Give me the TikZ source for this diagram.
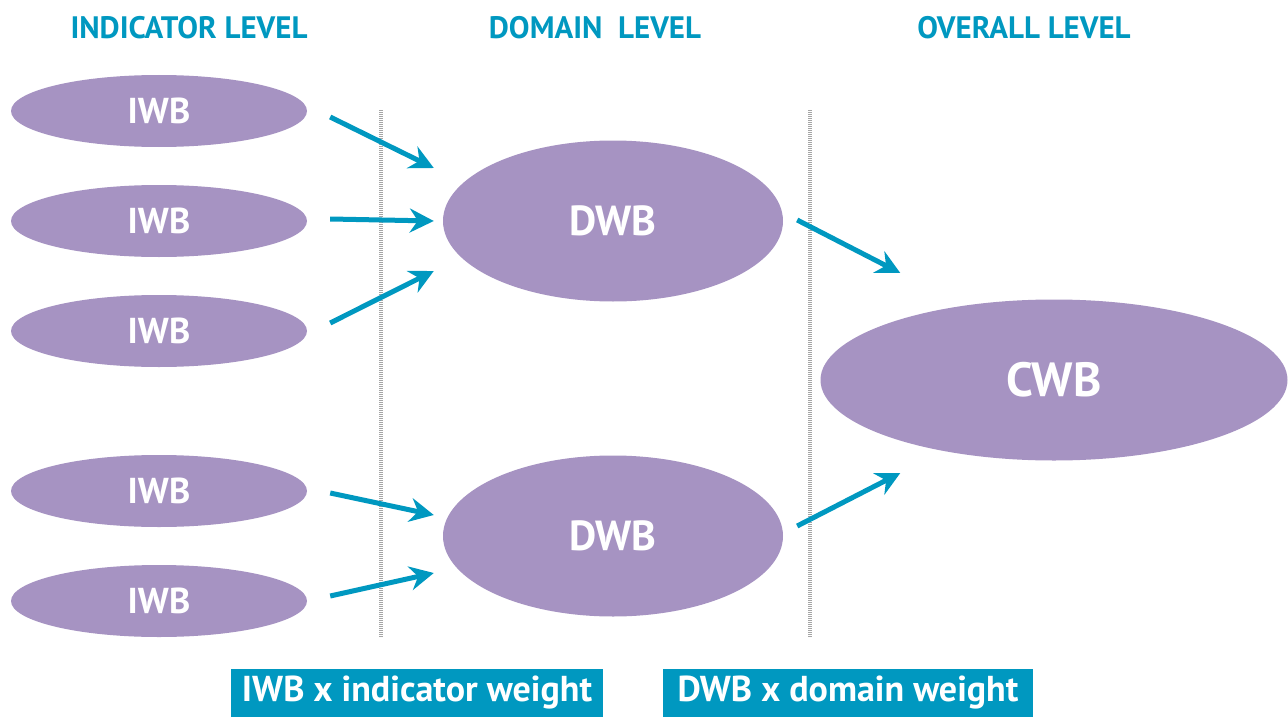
\documentclass[tikz,border=0pt]{standalone}
\usepackage{fontspec}
\setmainfont{PT Sans}
\usetikzlibrary{shapes.geometric,arrows.meta}
\definecolor{wbpurple}{RGB}{166,147,194}
\definecolor{wbteal}{RGB}{0,152,192}
\definecolor{wbgray}{RGB}{165,165,165}
\tikzset{
  lvl/.style={text=wbteal, font=\bfseries\fontsize{31}{32}\selectfont, anchor=center},
  iwb/.style={ellipse, fill=wbpurple, text=white, minimum width=296, minimum height=72, inner sep=0pt, font=\bfseries\fontsize{36}{37}\selectfont},
  dwb/.style={ellipse, fill=wbpurple, text=white, minimum width=340, minimum height=161, inner sep=0pt, font=\bfseries\fontsize{42}{44}\selectfont},
  cwb/.style={ellipse, fill=wbpurple, text=white, minimum width=467, minimum height=161, inner sep=0pt, font=\bfseries\fontsize{48}{50}\selectfont},
  flow/.style={draw=wbteal, line width=5, -{Stealth[length=24, width=24, inset=8]}},
  sep/.style={draw=wbgray, line width=4, dash pattern=on 1 off 1},
  wbox/.style={fill=wbteal, text=white, minimum width=372, minimum height=48, inner sep=0pt, font=\bfseries\fontsize{36}{38}\selectfont}
}
\begin{document}
\begin{tikzpicture}[x=1pt,y=-1pt]
\useasboundingbox (0,0) rectangle (1288,717);
\node[lvl] (h1) at (189,28) {INDICATOR LEVEL};
\node[lvl] (h2) at (595,28) {DOMAIN\ \ LEVEL};
\node[lvl] (h3) at (1024,28) {OVERALL LEVEL};
\coordinate (s1t) at (381,110); \coordinate (s1b) at (381,638);
\coordinate (s2t) at (810,110); \coordinate (s2b) at (810,638);
\draw[sep] (s1t) -- (s1b);
\draw[sep] (s2t) -- (s2b);
\node[iwb] (i1) at (159,111) {IWB};
\node[iwb] (i2) at (159,221) {IWB};
\node[iwb] (i3) at (159,331) {IWB};
\node[iwb] (i4) at (159,491) {IWB};
\node[iwb] (i5) at (159,601) {IWB};
\node[dwb] (d1) at (613,221) {DWB};
\node[dwb] (d2) at (613,536) {DWB};
\node[cwb] (c) at (1054,380) {CWB};
\draw[flow] ([shift={(23,6)}]i1.east) -- ([shift={(-9,-53)}]d1.west);
\draw[flow] ([shift={(23,-2)}]i2.east) -- ([shift={(-9,0)}]d1.west);
\draw[flow] ([shift={(23,-8)}]i3.east) -- ([shift={(-9,50)}]d1.west);
\draw[flow] ([shift={(23,2)}]i4.east) -- ([shift={(-9,-21)}]d2.west);
\draw[flow] ([shift={(23,-5)}]i5.east) -- ([shift={(-9,37)}]d2.west);
\draw[flow] ([shift={(14,-1)}]d1.east) -- ([shift={(80,-107)}]c.west);
\draw[flow] ([shift={(14,-10)}]d2.east) -- ([shift={(80,93)}]c.west);
\node[wbox] (b1) at (417,693) {IWB x indicator weight};
\node[wbox, minimum width=370] (b2) at (848,693) {DWB x domain weight};
\end{tikzpicture}
\end{document}
